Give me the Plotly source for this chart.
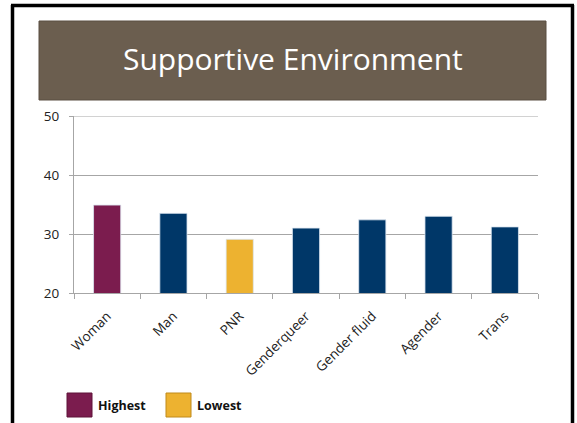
import plotly.graph_objects as go

categories = ["Woman", "Man", "PNR", "Genderqueer", "Gender fluid", "Agender", "Trans"]
values = [34.9, 33.5, 29.1, 31.0, 32.4, 33.0, 31.2]
y_ticks = [20, 30, 40, 50]
title_text = "Supportive Environment"
legend_labels = ["Highest", "Lowest"]

MAROON = "#7b1c4e"
BLUE = "#003768"
GOLD = "#edb230"
GRID = "#a6a6a6"

hi, lo = max(values), min(values)
colors = [MAROON if v == hi else GOLD if v == lo else BLUE for v in values]

FONT = "Open Sans"

fig = go.Figure()
fig.add_trace(go.Bar(
    x=categories, y=values,
    marker=dict(color=colors, line=dict(color="rgba(220,230,240,0.8)", width=1)),
    width=0.41, showlegend=False, hoverinfo="x+y",
))

W, H = 577, 423
ml, mr, mt, mb = 74, 39, 116, 130

def px(x):
    return (x - ml) / (W - ml - mr)

def py(y):
    return (H - mb - y) / (H - mt - mb)

shapes = [
    # title box
    dict(type="rect", xref="paper", yref="paper", x0=px(39), x1=px(546), y0=py(100), y1=py(21),
         fillcolor="#6b5e4f", line=dict(color="#5b4f42", width=1), layer="below"),
    # black frame (left, top, right)
    dict(type="line", xref="paper", yref="paper", x0=px(12.5), x1=px(12.5), y0=py(425), y1=py(5),
         line=dict(color="black", width=3.5)),
    dict(type="line", xref="paper", yref="paper", x0=px(11), x1=px(574), y0=py(5.5), y1=py(5.5),
         line=dict(color="black", width=3.5)),
    dict(type="line", xref="paper", yref="paper", x0=px(572.5), x1=px(572.5), y0=py(425), y1=py(5),
         line=dict(color="black", width=3.5)),
    # top gridline at the range edge
    dict(type="line", xref="paper", yref="y", x0=0, x1=1, y0=y_ticks[-1], y1=y_ticks[-1],
         line=dict(color=GRID, width=1)),
]

annotations = [
    dict(text=title_text, xref="paper", yref="paper", x=px(293), y=py(59), showarrow=False,
         font=dict(family=FONT, size=30, color="white"), xanchor="center", yanchor="middle"),
]

legend_items = [(legend_labels[0], MAROON, "#5e1238", 67), (legend_labels[1], GOLD, "#c08a1a", 166)]
for label, col, edge, x0 in legend_items:
    shapes.append(dict(type="rect", xref="paper", yref="paper", x0=px(x0), x1=px(x0 + 25),
                       y0=py(417), y1=py(393), fillcolor=col, line=dict(color=edge, width=1)))
    annotations.append(dict(text="<b>%s</b>" % label, xref="paper", yref="paper", x=px(x0 + 29), y=py(405),
                            showarrow=False, xanchor="left", yanchor="middle",
                            font=dict(family=FONT, size=12.5, color="#111")))

fig.update_layout(
    width=W, height=H,
    margin=dict(l=ml, r=mr, t=mt, b=mb, autoexpand=False),
    paper_bgcolor="white", plot_bgcolor="white",
    shapes=shapes, annotations=annotations,
    font=dict(family=FONT, color="#222"),
    bargap=0.59,
)
fig.update_xaxes(
    tickangle=-45, tickfont=dict(size=13.5, color="#222"),
    showline=True, linecolor=GRID, linewidth=1,
    ticks="outside", tickson="boundaries", ticklen=5, tickcolor=GRID,
    ticklabelstandoff=9,
    showgrid=False,
)
fig.update_yaxes(
    range=[20, 50], tickvals=y_ticks, tickfont=dict(size=13.5, color="#222"),
    showline=True, linecolor=GRID, linewidth=1,
    ticks="outside", ticklen=4, tickcolor=GRID,
    ticklabelstandoff=7,
    showgrid=True, gridcolor=GRID, gridwidth=1, zeroline=False,
)

fig.write_html("out.html")
